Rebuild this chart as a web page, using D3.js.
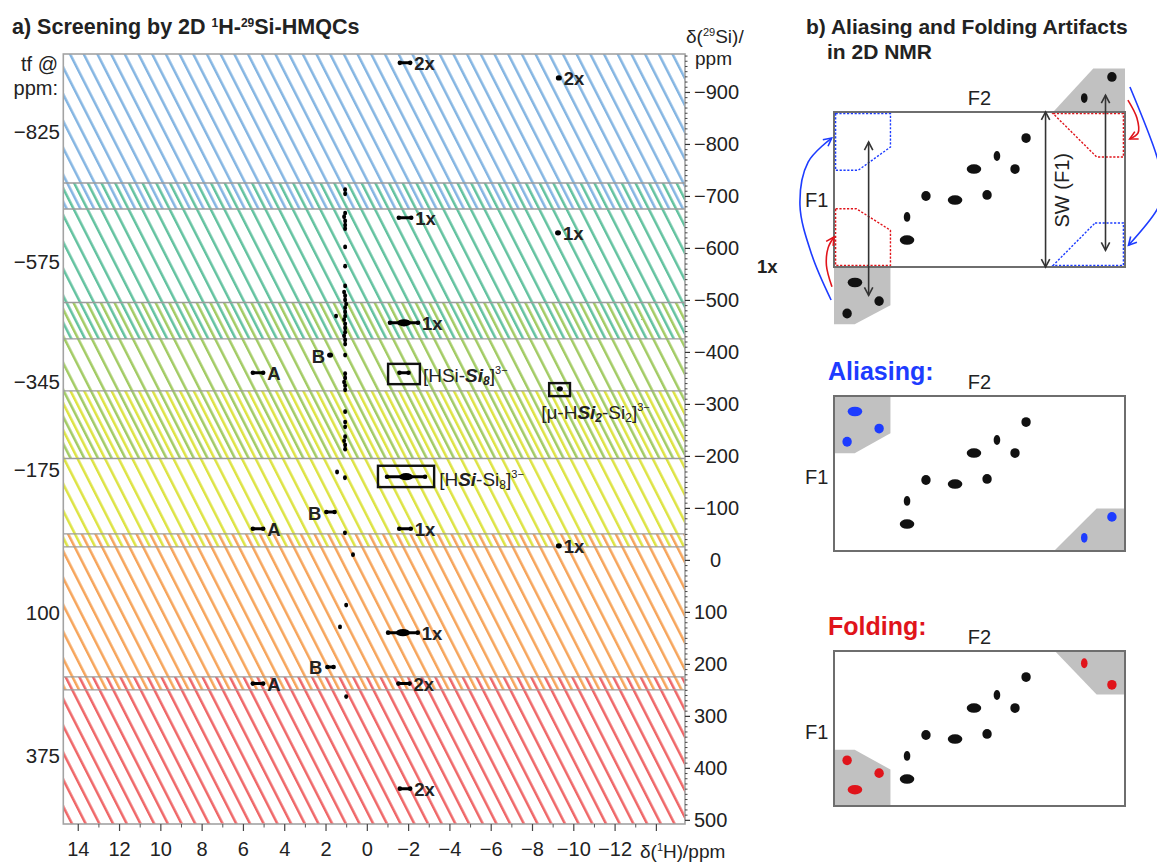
<!DOCTYPE html>
<html>
<head>
<meta charset="utf-8">
<script src="https://cdn.jsdelivr.net/npm/d3@7"></script>
<style>
  body { margin: 0; background: #fff; }
  svg { display: block; font-family: "Liberation Sans", Arial, sans-serif; }
</style>
</head>
<body>
<div id="chart"></div>
<script>
// ---- data: 1H-29Si HMQC screening (panel a) ----
// transmitter frequencies (ppm) of the six experiments, each with a 300 ppm window
const tfValues = [-825, -575, -345, -175, 100, 375];
const sweepWidth = 300;
const bandColors = ["#84b5e2", "#62c29f", "#a2cb63", "#dde342", "#f6a45a", "#ef6667"];

const siTicks = [-900, -800, -700, -600, -500, -400, -300, -200, -100, 0, 100, 200, 300, 400, 500];
const hTicks = [14, 12, 10, 8, 6, 4, 2, 0, -2, -4, -6, -8, -10, -12, -14];

// chain of small cross peaks near 1 ppm
const chainH = [1.05, 1.05, 1.05, 1.1, 1.05, 1.05, 1.05, 1.05, 1.05, 1.05, 1.1, 1.05, 1.05, 1.0, 1.05,
                1.05, 1.05, 1.1, 1.05, 1.05, 1.05, 1.1, 1.05, 1.05, 1.05, 1.05, 1.05, 1.1, 1.05, 1.05,
                1.05, 1.05, 1.05, 1.05, 1.1, 1.05, 1.05, 1.49, 1.44, 1.06, 1.06, 0.67, 1.0, 1.3, 1.0];
const chainSi = [-712, -704, -667, -660, -652, -644, -637, -602, -565, -527, -515, -508, -500, -492, -485,
                 -477, -469, -462, -454, -446, -438, -431, -423, -415, -394, -358, -350, -342, -335, -327,
                 -285, -265, -256, -237, -229, -221, -213, -469, -169, -158, -52, -10, 87, 129, 263];

// labelled cross peaks (center, half spread in 1H, tag)
const peakH = [-1.85, -9.3, -1.85, -9.26, -1.8, 1.78, 5.27, -1.8, -9.35, -1.9, 1.76, 5.27, -1.85, -9.3, -1.75, 1.76, 5.27, -1.8, -1.85];
const peakSi = [-956, -927, -658, -629, -456, -394, -360, -360, -329, -160, -92, -60, -60, -27, 140, 206, 238, 238, 440];
const peakSpread = [0.25, 0, 0.3, 0, 0.68, 0, 0.25, 0.22, 0, 0.92, 0.2, 0.25, 0.28, 0, 0.72, 0.15, 0.25, 0.27, 0.25];
const peakTags = ["2x", "2x", "1x", "1x", "1x", "B", "A", "", "", "", "B", "A", "1x", "1x", "1x", "B", "A", "2x", "2x"];

// assigned signals in boxes
const boxH1 = [-1.03, -8.83, -0.54];
const boxH2 = [-2.57, -9.84, -3.26];
const boxSi1 = [-377, -340, -181];
const boxSi2 = [-338, -315, -140];

// ---- data: schematic (panel b), unit coordinates of the spectral window ----
const diagU = [0.66, 0.56, 0.622, 0.481, 0.526, 0.416, 0.316, 0.251, 0.251];
const diagV = [0.168, 0.284, 0.368, 0.368, 0.535, 0.568, 0.542, 0.677, 0.826];
const diagShape = ["round", "tall", "round", "wide", "round", "wide", "round", "tall", "wide"];

const outsideU = [0.072, 0.155, 0.045, 0.955, 0.86];
const outsideV = [1.10, 1.22, 1.30, -0.226, -0.09];
const outsideShape = ["wide", "round", "round", "round", "tall"];

const aliasU = [0.072, 0.155, 0.045, 0.955, 0.86];
const aliasV = [0.10, 0.21, 0.295, 0.78, 0.915];
const aliasShape = ["wide", "round", "round", "round", "tall"];

const foldU = [0.072, 0.155, 0.045, 0.955, 0.86];
const foldV = [0.895, 0.788, 0.705, 0.218, 0.079];
const foldShape = ["wide", "round", "round", "round", "tall"];

// ---- setup ----
const W = 1157, H = 864;
const svg = d3.select("#chart").append("svg").attr("width", W).attr("height", H);
svg.append("rect").attr("width", W).attr("height", H).attr("fill", "#fff");
const defs = svg.append("defs");
const ink = "#222";
const fmt = d => d < 0 ? "\u2212" + Math.abs(d) : String(d);

// ================= panel a =================
const plot = {left: 63.3, right: 685, top: 54, bottom: 824};
const x = d3.scaleLinear().domain([14.7, -15.41]).range([plot.left, plot.right]);
const y = d3.scaleLinear().domain([-973, 508]).range([plot.top, plot.bottom]);

defs.append("clipPath").attr("id", "plotClip")
  .append("rect")
  .attr("x", plot.left).attr("y", plot.top)
  .attr("width", plot.right - plot.left).attr("height", plot.bottom - plot.top);

const bands = tfValues.map((tf, i) => ({
  tf: tf, lo: tf - sweepWidth / 2, hi: tf + sweepWidth / 2, color: bandColors[i], i: i
}));

// diagonal hatch, alternate bands shifted half a period so overlaps interleave
const hatchGap = 12.2;
defs.selectAll("pattern.hatch")
  .data(bands)
  .join("pattern")
  .attr("class", "hatch")
  .attr("id", d => "hatch" + d.i)
  .attr("patternUnits", "userSpaceOnUse")
  .attr("width", hatchGap).attr("height", hatchGap)
  .attr("patternTransform", d => "rotate(-27) translate(" + (d.i % 2 ? hatchGap / 2 : 0) + ",0)")
  .append("rect")
  .attr("width", 2.5).attr("height", hatchGap)
  .attr("fill", d => d.color);

const gPlot = svg.append("g").attr("clip-path", "url(#plotClip)");
const [dLo, dHi] = y.domain();

gPlot.selectAll("rect.band")
  .data(bands)
  .join("rect")
  .attr("class", "band")
  .attr("x", plot.left)
  .attr("width", plot.right - plot.left)
  .attr("y", d => y(Math.max(d.lo, dLo)))
  .attr("height", d => y(Math.min(d.hi, dHi)) - y(Math.max(d.lo, dLo)))
  .attr("fill", d => "url(#hatch" + d.i + ")");

const edges = bands.flatMap(d => [d.lo, d.hi]).filter(v => v > dLo && v < dHi);
gPlot.selectAll("line.edge")
  .data(edges)
  .join("line")
  .attr("x1", plot.left).attr("x2", plot.right)
  .attr("y1", d => y(d)).attr("y2", d => y(d))
  .attr("stroke", "#9b9b9b").attr("stroke-width", 1.4);

// chain peaks
gPlot.selectAll("ellipse.chain")
  .data(chainH.map((h, i) => ({h: h, si: chainSi[i]})))
  .join("ellipse")
  .attr("cx", d => x(d.h)).attr("cy", d => y(d.si))
  .attr("rx", 2).attr("ry", 2.4)
  .attr("fill", "#000");

// labelled peaks
const peaks = peakH.map((h, i) => ({h: h, si: peakSi[i], s: peakSpread[i], tag: peakTags[i]}));
const gPeaks = gPlot.selectAll("g.peak").data(peaks).join("g").attr("class", "peak");
gPeaks.filter(d => d.s > 0).append("line")
  .attr("x1", d => x(d.h + d.s)).attr("x2", d => x(d.h - d.s))
  .attr("y1", d => y(d.si)).attr("y2", d => y(d.si))
  .attr("stroke", "#000").attr("stroke-width", 3).attr("stroke-linecap", "round");
gPeaks.filter(d => d.s > 0).selectAll("circle.end")
  .data(d => [[d.h + d.s, d.si], [d.h - d.s, d.si]])
  .join("circle")
  .attr("cx", d => x(d[0])).attr("cy", d => y(d[1])).attr("r", 2.3).attr("fill", "#000");
gPeaks.filter(d => d.s > 0.5).append("ellipse")
  .attr("cx", d => x(d.h)).attr("cy", d => y(d.si))
  .attr("rx", 7).attr("ry", 3.6).attr("fill", "#000");
gPeaks.filter(d => d.s === 0).append("ellipse")
  .attr("cx", d => x(d.h)).attr("cy", d => y(d.si))
  .attr("rx", 3).attr("ry", 2.6).attr("fill", "#000");

svg.selectAll("text.peakTag")
  .data(peaks.filter(d => d.tag))
  .join("text")
  .attr("class", "peakTag")
  .attr("x", d => d.tag === "B" ? x(d.h + d.s) - 5 : x(d.h - d.s) + (d.s === 0 ? 5 : 4))
  .attr("y", d => y(d.si) + 1)
  .attr("text-anchor", d => d.tag === "B" ? "end" : "start")
  .attr("dominant-baseline", "central")
  .attr("font-size", 18.5).attr("font-weight", "bold").attr("fill", ink)
  .text(d => d.tag);

// boxes
const boxes = boxH1.map((h, i) => ({h1: h, h2: boxH2[i], s1: boxSi1[i], s2: boxSi2[i]}));
svg.selectAll("rect.box")
  .data(boxes)
  .join("rect")
  .attr("x", d => x(d.h1)).attr("y", d => y(d.s1))
  .attr("width", d => x(d.h2) - x(d.h1)).attr("height", d => y(d.s2) - y(d.s1))
  .attr("fill", "none").attr("stroke", "#111").attr("stroke-width", 2.4);

function richLabel(px, py, parts) {
  const t = svg.append("text").attr("x", px).attr("y", py)
    .attr("font-size", 19).attr("fill", ink);
  parts.forEach(p => {
    const ts = t.append("tspan").text(p.t);
    if (p.bi) ts.attr("font-weight", "bold").attr("font-style", "italic");
    if (p.sub) ts.attr("font-size", 12).attr("baseline-shift", "-25%");
    if (p.sup) ts.attr("font-size", 11).attr("baseline-shift", "70%");
  });
}
richLabel(x(boxes[0].h2) + 3, y(boxes[0].s2) - 2, [
  {t: "[HSi-"}, {t: "Si", bi: true}, {t: "8", bi: true, sub: true}, {t: "]"}, {t: "3\u2212", sup: true}]);
richLabel(x(boxes[1].h1) - 8, y(boxes[1].s2) + 23, [
  {t: "[\u03bc-H"}, {t: "Si", bi: true}, {t: "2", bi: true, sub: true}, {t: "-Si"}, {t: "2", sub: true}, {t: "]"}, {t: "3\u2212", sup: true}]);
richLabel(x(boxes[2].h2) + 5, y(boxes[2].s2) - 1, [
  {t: "[H"}, {t: "Si", bi: true}, {t: "-Si"}, {t: "8", sub: true}, {t: "]"}, {t: "3\u2212", sup: true}]);

// frame
svg.append("rect")
  .attr("x", plot.left).attr("y", plot.top)
  .attr("width", plot.right - plot.left).attr("height", plot.bottom - plot.top)
  .attr("fill", "none").attr("stroke", "#a3a3a3").attr("stroke-width", 1.6);

// right (29Si) axis
const minorSi = d3.range(-970, 510, 10).filter(v => v % 100 !== 0);
const gRight = svg.append("g").attr("transform", "translate(" + plot.right + ",0)")
  .call(d3.axisRight(y).tickValues(siTicks).tickSize(5).tickPadding(4).tickFormat(fmt));
svg.append("g").attr("transform", "translate(" + plot.right + ",0)")
  .call(d3.axisRight(y).tickValues(minorSi).tickSize(2.5).tickFormat(""))
  .call(g => g.select(".domain").remove())
  .selectAll("line").attr("stroke", "#444");
gRight.select(".domain").remove();
gRight.selectAll("line").attr("stroke", "#333").attr("stroke-width", 1.2);
gRight.selectAll("text").attr("font-size", 20).attr("fill", ink)
  .attr("font-family", "Liberation Sans, Arial, sans-serif")
  .attr("x", d => d === 0 ? 25 : 9);

// bottom (1H) axis
const minorH = d3.range(-13, 15, 2);
const gBottom = svg.append("g").attr("transform", "translate(0," + plot.bottom + ")")
  .call(d3.axisBottom(x).tickValues(hTicks).tickSize(7).tickPadding(11)
    .tickFormat(d => d === -14 ? "" : fmt(d)));
svg.append("g").attr("transform", "translate(0," + plot.bottom + ")")
  .call(d3.axisBottom(x).tickValues(minorH).tickSize(3.5).tickFormat(""))
  .call(g => g.select(".domain").remove())
  .selectAll("line").attr("stroke", "#555");
gBottom.select(".domain").remove();
gBottom.selectAll("line").attr("stroke", "#444").attr("stroke-width", 1.2);
gBottom.selectAll("text").attr("font-size", 20).attr("fill", ink)
  .attr("font-family", "Liberation Sans, Arial, sans-serif");

// left transmitter labels
svg.selectAll("text.tf")
  .data(tfValues)
  .join("text")
  .attr("class", "tf")
  .attr("x", 60).attr("y", d => y(d) + 1)
  .attr("text-anchor", "end").attr("dominant-baseline", "central")
  .attr("font-size", 20.5).attr("fill", ink)
  .text(fmt);

svg.append("text").attr("x", 58).attr("y", 71).attr("text-anchor", "end")
  .attr("font-size", 20).attr("fill", ink).text("tf @");
svg.append("text").attr("x", 58).attr("y", 95).attr("text-anchor", "end")
  .attr("font-size", 20).attr("fill", ink).text("ppm:");

// axis titles
const siTitle = svg.append("text").attr("x", 686).attr("y", 43).attr("font-size", 19).attr("fill", ink);
siTitle.append("tspan").text("\u03b4(");
siTitle.append("tspan").text("29").attr("font-size", 11).attr("baseline-shift", "60%");
siTitle.append("tspan").text("Si)/");
svg.append("text").attr("x", 695).attr("y", 65).attr("font-size", 19).attr("fill", ink).text("ppm");

const hTitle = svg.append("text").attr("x", 640).attr("y", 858).attr("font-size", 19).attr("fill", ink);
hTitle.append("tspan").text("\u03b4(");
hTitle.append("tspan").text("1").attr("font-size", 11).attr("baseline-shift", "60%");
hTitle.append("tspan").text("H)/ppm");

// panel title
const titleA = svg.append("text").attr("x", 12).attr("y", 34)
  .attr("font-size", 21.5).attr("font-weight", "bold").attr("fill", ink);
titleA.append("tspan").text("a) Screening by 2D ");
titleA.append("tspan").text("1").attr("font-size", 12).attr("baseline-shift", "60%");
titleA.append("tspan").text("H-");
titleA.append("tspan").text("29").attr("font-size", 12).attr("baseline-shift", "60%");
titleA.append("tspan").text("Si-HMQCs");

svg.append("text").attr("x", 757).attr("y", 266).attr("dominant-baseline", "central")
  .attr("font-size", 18.5).attr("font-weight", "bold").attr("fill", ink).text("1x");

// ================= panel b =================
const u = d3.scaleLinear().domain([0, 1]).range([834, 1125]);
const diagTops = [112, 396, 651];
const diagH = 155;
const lineGen = d3.line();
const curveGen = d3.line().curve(d3.curveCatmullRom.alpha(0.5));
const BLUE = "#1d3cff", RED = "#e0141b", GREY = "#c1c1c1";

function shapeR(s) {
  if (s === "wide") return [7.3, 4.8];
  if (s === "tall") return [3.3, 4.9];
  return [4.7, 4.9];
}
function drawPeaks(g, v, us, vs, shapes, color) {
  g.selectAll(null)
    .data(us.map((uu, i) => ({u: uu, v: vs[i], s: shapes[i]})))
    .join("ellipse")
    .attr("cx", d => u(d.u)).attr("cy", d => v(d.v))
    .attr("rx", d => shapeR(d.s)[0]).attr("ry", d => shapeR(d.s)[1])
    .attr("fill", color);
}
function polygon(g, v, pts, fill) {
  g.append("path").attr("d", lineGen(pts.map(p => [u(p[0]), v(p[1])])) + "Z")
    .attr("fill", fill).attr("stroke", "none");
}
function dashedPolygon(g, v, pts, color) {
  const pp = pts.map(p => [
    Math.min(Math.max(u(p[0]), u(0) + 1.6), u(1) - 1.6),
    Math.min(Math.max(v(p[1]), v(0) + 1.6), v(1) - 1.6)]);
  g.append("path").attr("d", lineGen(pp) + "Z")
    .attr("fill", "none").attr("stroke", color).attr("stroke-width", 1.4)
    .attr("stroke-dasharray", "2.2,1.6");
}
function arrowHead(g, tip, angle, color) {
  const L = 9, a = Math.PI / 6.5;
  const p1 = [tip[0] - L * Math.cos(angle - a), tip[1] - L * Math.sin(angle - a)];
  const p2 = [tip[0] - L * Math.cos(angle + a), tip[1] - L * Math.sin(angle + a)];
  g.append("path").attr("d", lineGen([p1, tip, p2]))
    .attr("fill", "none").attr("stroke", color).attr("stroke-width", 1.6);
}
function doubleArrow(g, v, uu, v1, v2) {
  const x0 = u(uu), y1 = v(v1), y2 = v(v2);
  g.append("line").attr("x1", x0).attr("x2", x0).attr("y1", y1).attr("y2", y2)
    .attr("stroke", "#333").attr("stroke-width", 1.6);
  arrowHead(g, [x0, y1], -Math.PI / 2, "#333");
  arrowHead(g, [x0, y2], Math.PI / 2, "#333");
}
function curvedArrow(g, v, pts, color) {
  const p = g.append("path").attr("d", curveGen(pts.map(q => [u(q[0]), v(q[1])])))
    .attr("fill", "none").attr("stroke", color).attr("stroke-width", 1.6);
  const node = p.node(), len = node.getTotalLength();
  const e = node.getPointAtLength(len), b = node.getPointAtLength(len - 4);
  arrowHead(g, [e.x, e.y], Math.atan2(e.y - b.y, e.x - b.x), color);
}
function frame(g, v) {
  g.append("rect").attr("x", u(0)).attr("y", v(0))
    .attr("width", u(1) - u(0)).attr("height", v(1) - v(0))
    .attr("fill", "none").attr("stroke", "#6e6e6e").attr("stroke-width", 2);
}
function axisLabels(g, v, f1v) {
  g.append("text").attr("x", u(0.5)).attr("y", v(0) - 7).attr("text-anchor", "middle")
    .attr("font-size", 20).attr("fill", ink).text("F2");
  g.append("text").attr("x", 805).attr("y", v(f1v)).attr("dominant-baseline", "central")
    .attr("font-size", 20).attr("fill", ink).text("F1");
}

// title
svg.append("text").attr("x", 806).attr("y", 34).attr("font-size", 21).attr("font-weight", "bold")
  .attr("fill", ink).text("b) Aliasing and Folding Artifacts");
svg.append("text").attr("x", 827).attr("y", 59).attr("font-size", 21).attr("font-weight", "bold")
  .attr("fill", ink).text("in 2D NMR");

// -- top schematic
{
  const v = d3.scaleLinear().domain([0, 1]).range([diagTops[0], diagTops[0] + diagH]);
  const g = svg.append("g");
  polygon(g, v, [[0, 1], [0.194, 1], [0.194, 1.247], [0.071, 1.37], [0, 1.37]], GREY);
  polygon(g, v, [[0.753, 0], [0.891, -0.28], [1, -0.28], [1, 0]], GREY);
  frame(g, v);
  dashedPolygon(g, v, [[0, 0], [0.194, 0], [0.194, 0.226], [0.083, 0.376], [0, 0.376]], BLUE);
  dashedPolygon(g, v, [[0, 0.624], [0.077, 0.624], [0.194, 0.763], [0.194, 1], [0, 1]], RED);
  dashedPolygon(g, v, [[0.753, 0], [1, 0], [1, 0.29], [0.9025, 0.29]], RED);
  dashedPolygon(g, v, [[0.897, 0.716], [1, 0.716], [1, 1], [0.753, 1]], BLUE);
  drawPeaks(g, v, diagU, diagV, diagShape, "#111");
  drawPeaks(g, v, outsideU, outsideV, outsideShape, "#111");
  doubleArrow(g, v, 0.119, 0.194, 1.183);
  doubleArrow(g, v, 0.727, 0, 1);
  doubleArrow(g, v, 0.933, -0.108, 0.892);
  curvedArrow(g, v, [[-0.010, 1.213], [-0.076, 0.923], [-0.117, 0.60], [-0.089, 0.323], [-0.008, 0.168]], BLUE);
  curvedArrow(g, v, [[-0.007, 1.127], [-0.026, 0.99], [-0.020, 0.875], [0.0, 0.806]], RED);
  curvedArrow(g, v, [[1.017, -0.161], [1.11, 0.29], [1.135, 0.5], [1.11, 0.63], [1.012, 0.86]], BLUE);
  curvedArrow(g, v, [[1.010, -0.077], [1.041, 0.039], [1.045, 0.135], [1.016, 0.174]], RED);
  g.append("text")
    .attr("transform", "translate(" + u(0.782) + "," + v(0.505) + ") rotate(-90)")
    .attr("text-anchor", "middle").attr("dominant-baseline", "central")
    .attr("font-size", 20).attr("fill", ink).text("SW (F1)");
  axisLabels(g, v, 0.57);
}

// -- aliasing schematic
{
  const v = d3.scaleLinear().domain([0, 1]).range([diagTops[1], diagTops[1] + diagH]);
  const g = svg.append("g");
  polygon(g, v, [[0, 0], [0.194, 0], [0.194, 0.241], [0.071, 0.37], [0, 0.37]], GREY);
  polygon(g, v, [[0.756, 1], [0.9025, 0.726], [1, 0.726], [1, 1]], GREY);
  frame(g, v);
  drawPeaks(g, v, diagU, diagV, diagShape, "#111");
  drawPeaks(g, v, aliasU, aliasV, aliasShape, BLUE);
  axisLabels(g, v, 0.52);
  g.append("text").attr("x", 828).attr("y", 380).attr("font-size", 25).attr("font-weight", "bold")
    .attr("fill", BLUE).text("Aliasing:");
}

// -- folding schematic
{
  const v = d3.scaleLinear().domain([0, 1]).range([diagTops[2], diagTops[2] + diagH]);
  const g = svg.append("g");
  polygon(g, v, [[0.759, 0], [1, 0], [1, 0.28], [0.9025, 0.28]], GREY);
  polygon(g, v, [[0, 0.637], [0.071, 0.637], [0.194, 0.765], [0.194, 1], [0, 1]], GREY);
  frame(g, v);
  drawPeaks(g, v, diagU, diagV, diagShape, "#111");
  drawPeaks(g, v, foldU, foldV, foldShape, RED);
  axisLabels(g, v, 0.52);
  g.append("text").attr("x", 828).attr("y", 635).attr("font-size", 25).attr("font-weight", "bold")
    .attr("fill", RED).text("Folding:");
}
</script>
</body>
</html>
